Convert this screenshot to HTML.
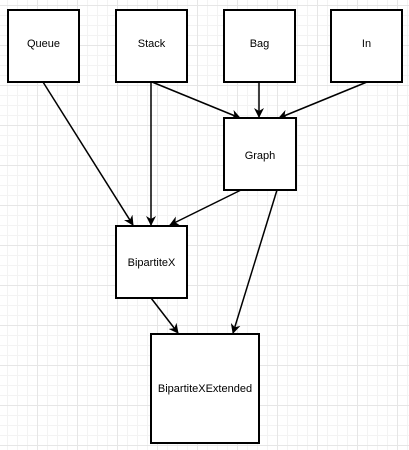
<!DOCTYPE html>
<html><head><style>
html,body{margin:0;padding:0;background:#fff;}
body{width:409px;height:450px;overflow:hidden;
background-image:linear-gradient(#e6e6e6 1px,transparent 1px),linear-gradient(90deg,#e6e6e6 1px,transparent 1px),linear-gradient(#f3f3f3 1px,transparent 1px),linear-gradient(90deg,#f3f3f3 1px,transparent 1px);
background-size:40px 40px,40px 40px,10px 10px,10px 10px;background-position:-3px 5px,-3px 5px,-3px 5px,-3px 5px;}
</style></head><body>
<svg width="409" height="450" style="position:absolute;left:0;top:0" font-family="Liberation Sans, Arial, sans-serif" font-size="11">
<defs><marker id="a" markerWidth="10" markerHeight="10" refX="9" refY="5" orient="auto" markerUnits="userSpaceOnUse"><path d="M0,0 L10,5 L0,10 L3,5 z" fill="#000"/></marker></defs>
<g stroke="#000" stroke-width="1.5" marker-end="url(#a)">
<line x1="43" y1="82" x2="133" y2="225"/>
<line x1="151" y1="82" x2="151" y2="225"/>
<line x1="152" y1="82" x2="240" y2="118"/>
<line x1="259" y1="82" x2="259" y2="117"/>
<line x1="367" y1="82" x2="279" y2="118"/>
<line x1="241" y1="190" x2="170" y2="225"/>
<line x1="277" y1="190" x2="233" y2="333"/>
<line x1="151" y1="298" x2="178" y2="333"/>
</g>
<g fill="#fff" stroke="#000" stroke-width="2">
<rect x="8" y="10" width="71" height="72"/>
<rect x="116" y="10" width="71" height="72"/>
<rect x="224" y="10" width="71" height="72"/>
<rect x="331" y="10" width="71" height="72"/>
<rect x="224" y="118" width="72" height="72"/>
<rect x="116" y="226" width="71" height="72"/>
<rect x="151" y="334" width="108" height="109"/>
</g>
<g text-anchor="middle" fill="#000">
<text x="43.5" y="47">Queue</text>
<text x="151.5" y="47">Stack</text>
<text x="259.5" y="47">Bag</text>
<text x="366.5" y="47">In</text>
<text x="260" y="159">Graph</text>
<text x="151.5" y="266">BipartiteX</text>
<text x="205" y="392">BipartiteXExtended</text>
</g>
</svg>
</body></html>
